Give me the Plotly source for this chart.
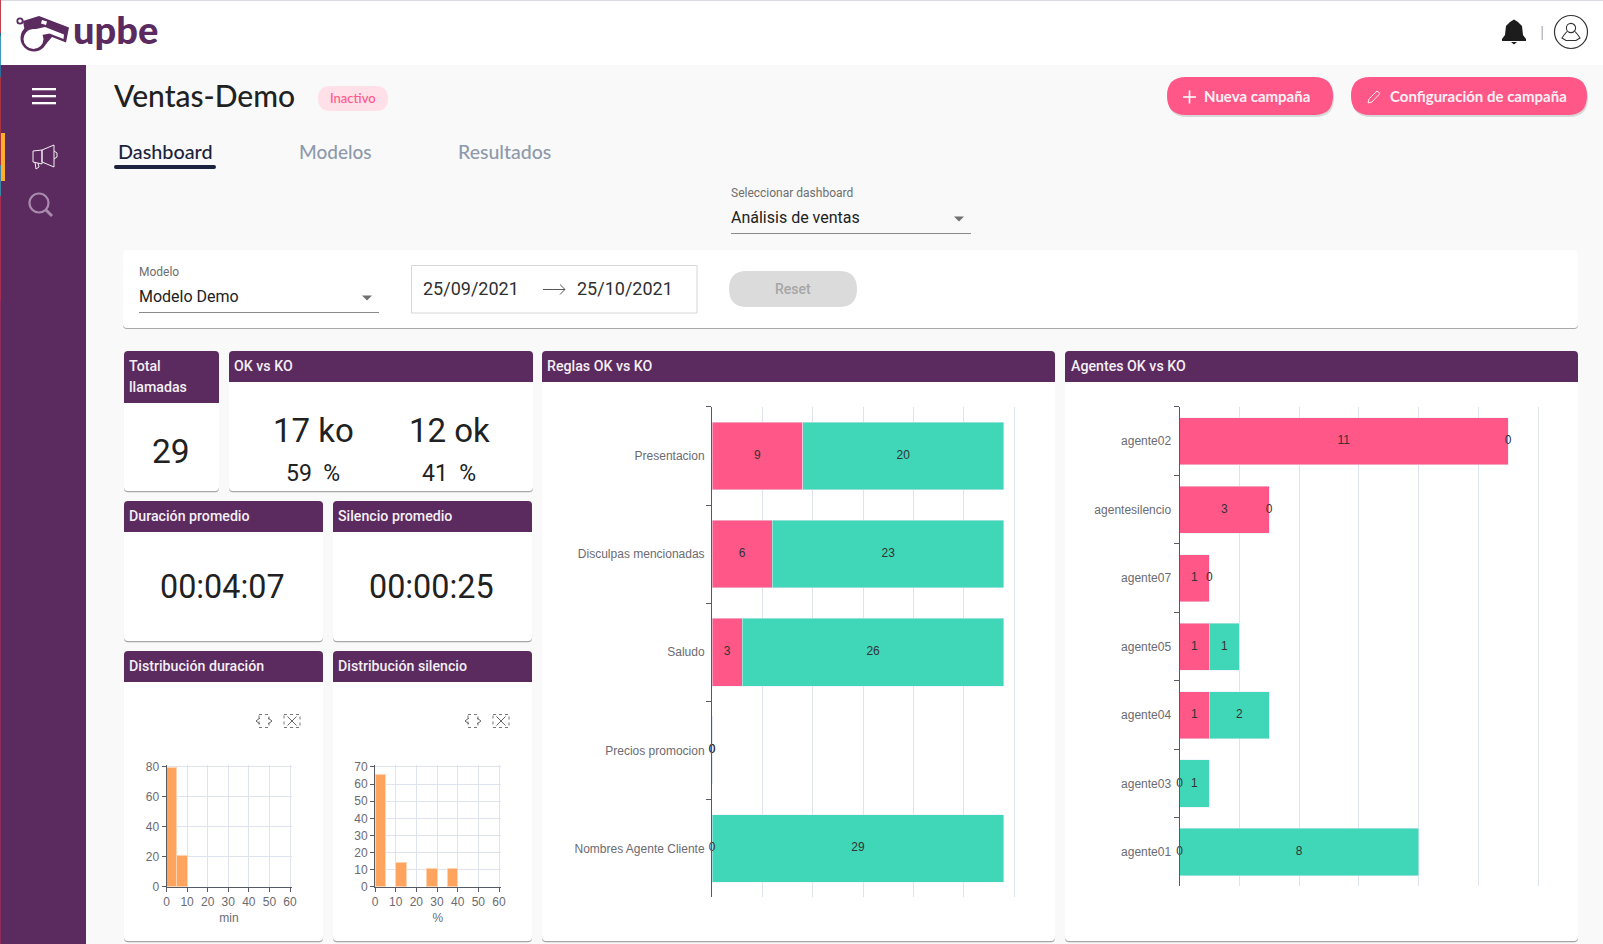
import plotly.graph_objects as go

W, H = 1603, 944

## Data -----------------------------------------------------------------------

reglas = ["Presentacion", "Disculpas mencionadas", "Saludo", "Precios promocion", "Nombres Agente Cliente"]
reglas_ko = [9, 6, 3, 0, 0]
reglas_ok = [20, 23, 26, 0, 29]

agentes = ["agente02", "agentesilencio", "agente07", "agente05", "agente04", "agente03", "agente01"]
agentes_ko = [11, 3, 1, 1, 1, 0, 0]
agentes_ok = [0, 0, 0, 1, 2, 1, 8]

duracion_x = [2.5, 7.5]
duracion_y = [79.5, 21]
silencio_x = [2.5, 12.5, 27.5, 37.5]
silencio_y = [65.5, 14, 10.5, 10.5]

PURPLE = "#5b2a5e"
PINK = "#ff5787"
TEAL = "#40d7b9"
ORANGE = "#ffa45e"
GRID = "#dfe3ee"
AXIS = "#555a64"
DARK = "#212121"
BG = "#f9f9f9"
UI = "Lato"
RB = "Roboto"
ARIAL = "Liberation Sans"

fig = go.Figure()


## Helpers --------------------------------------------------------------------

def px(x):
    return round(x / W, 5)


def py(y):
    return round(1 - y / H, 5)


def rect(x0, y0, x1, y1, fill, line=None, width=1, layer="below", dash=None):
    fig.add_shape(type="rect", xref="paper", yref="paper",
                  x0=px(x0), y0=py(y0), x1=px(x1), y1=py(y1), fillcolor=fill, layer=layer,
                  line=dict(color=line, width=width, dash=dash) if line else dict(width=0))


def path(points, fill=None, line=None, width=1, close=False, layer="above"):
    s = "M" + " L".join(f"{px(x)},{py(y)}" for x, y in points)
    if close:
        s += " Z"
    fig.add_shape(type="path", xref="paper", yref="paper", path=s, layer=layer,
                  fillcolor=fill if fill else "rgba(0,0,0,0)",
                  line=dict(color=line, width=width) if line else dict(width=0))


def rrect(x0, y0, x1, y1, r, fill, tl=True, tr=True, br=True, bl=True, line=None, layer="below"):
    def c(cx, cy):
        return f"{px(cx)},{py(cy)}"
    s = "M" + c(x0 + (r if tl else 0), y0) + " L" + c(x1 - (r if tr else 0), y0)
    if tr:
        s += " Q" + c(x1, y0) + " " + c(x1, y0 + r)
    s += " L" + c(x1, y1 - (r if br else 0))
    if br:
        s += " Q" + c(x1, y1) + " " + c(x1 - r, y1)
    s += " L" + c(x0 + (r if bl else 0), y1)
    if bl:
        s += " Q" + c(x0, y1) + " " + c(x0, y1 - r)
    s += " L" + c(x0, y0 + (r if tl else 0))
    if tl:
        s += " Q" + c(x0, y0) + " " + c(x0 + r, y0)
    s += " Z"
    fig.add_shape(type="path", xref="paper", yref="paper", path=s, fillcolor=fill, layer=layer,
                  line=dict(color=line, width=1) if line else dict(width=0))


def circle(cx, cy, r, line, width=1, fill=None, layer="above"):
    fig.add_shape(type="circle", xref="paper", yref="paper", layer=layer,
                  x0=px(cx - r), x1=px(cx + r), y0=py(cy - r), y1=py(cy + r),
                  fillcolor=fill if fill else "rgba(0,0,0,0)",
                  line=dict(color=line, width=width) if line else dict(width=0))


def txt(x, y, text, size, color=DARK, family=RB, anchor="left", weight=400):
    fig.add_annotation(xref="paper", yref="paper", x=px(x), y=py(y), text=text, showarrow=False,
                       xanchor=anchor, yanchor="middle", borderpad=0,
                       font=dict(size=size, color=color, family=family, weight=weight))


def card(x0, y0, x1, y1, hy, titles):
    rrect(x0, y0 + 1.5, x1, y1 + 1.2, 4, "#a8a8a8")
    rrect(x0, y0, x1, y1, 4, "#ffffff")
    rrect(x0, y0, x1, hy, 4, PURPLE, br=False, bl=False)
    for i, t in enumerate(titles):
        txt(x0 + 4.5, y0 + 15 + i * 21, t, 14.2, "#f4eff5", RB, weight=500)


def dropdown(x0, x1, y):
    rect(x0, y, x1, y + 1, "#8a8a8a")
    path([(x1 - 17, y - 16.5), (x1 - 7, y - 16.5), (x1 - 12, y - 11.5)], fill="#707070", close=True)


def zoom_icons(cx1, cx2, cy):
    # iconos de la barra del grafico
    rect(cx1 - 5, cy - 6.5, cx1 + 5, cy + 6.5, "rgba(0,0,0,0)", "#777777", 1, "above", "dot")
    path([(cx1 - 4, cy - 3), (cx1 - 8, cy), (cx1 - 4, cy + 3)], line="#666666", width=1)
    path([(cx1 + 4, cy - 3), (cx1 + 8, cy), (cx1 + 4, cy + 3)], line="#666666", width=1)
    rect(cx2 - 8, cy - 6.5, cx2 + 8, cy + 6.5, "rgba(0,0,0,0)", "#777777", 1, "above", "dot")
    path([(cx2 - 4.5, cy - 4.5), (cx2 + 4.5, cy + 4.5)], line="#666666", width=1)
    path([(cx2 - 4.5, cy + 4.5), (cx2 + 4.5, cy - 4.5)], line="#666666", width=1)


## Cabecera y menu lateral ----------------------------------------------------

rect(0, 0, W, 65, "#ffffff")
rect(0, 0, W, 1, "#d9d9e0")
rect(1, 65, 86, H, PURPLE)
for y0, y1, c in [(0, 33, "#c0404c"), (33, 36, "#1f6a96"), (36, 65, "#3a9ab8"), (65, 77, "#2f6f9c"),
                  (77, 133, "#a53440"), (133, 165, "#a53440"), (165, 196, "#3a86a8"),
                  (196, 300, "#a82a52"), (300, H, "#8f2a5c")]:
    rect(0, y0, 1, y1, c)
rect(1, 133, 5, 181, "#ffae2b")
for y in (88, 95, 102):
    rect(32, y, 56, y + 2.3, "#ffffff")

# megafono
path([(33, 151), (42, 150), (42, 164), (33, 162)], line="#f4eff5", close=True)
path([(42, 150), (54, 145), (54, 167), (42, 162)], line="#f4eff5", close=True)
path([(54, 151), (57, 153), (57, 157), (54, 159)], line="#f4eff5")
path([(35, 162), (36, 169), (39, 167), (38, 163)], line="#f4eff5")
# lupa
circle(39, 203, 9.5, "#a98bae", 2.2)
path([(46, 210), (52, 216)], line="#a98bae", width=3)

# logo
circle(34, 38, 13.5, None, fill=PURPLE)
path([(23, 21), (39, 16), (69, 27.5), (66, 42.5), (52, 37), (46, 44), (26, 38)], fill=PURPLE, close=True)
circle(33.5, 39, 10, None, fill="#ffffff")
path([(27, 31), (45, 27), (64, 34.5), (63.5, 39), (49.5, 33.5), (42, 35)], fill="#ffffff", close=True)
path([(42, 20), (47, 21.5), (46, 25), (41, 23.5)], fill="#ffffff", close=True)
circle(20, 21, 2.7, PURPLE, 1.8)
txt(72, 29, "upbe", 38, PURPLE, UI, weight=900)

# campana y usuario
path([(1502, 39), (1505, 35), (1506, 26), (1510, 22), (1514, 19.5), (1518, 22), (1522, 26), (1523, 35),
      (1526, 39), (1526, 41), (1502, 41)], fill="#1c1c1c", close=True)
path([(1511, 42), (1517, 42), (1514, 44.5)], fill="#1c1c1c", close=True)
rect(1541.5, 26, 1543, 40, "#bcbcc4")
circle(1571, 32, 16.5, "#333333", 1.2)
circle(1571, 28, 4.6, "#333333", 1.1)
path([(1567, 31.5), (1564, 35), (1562, 38), (1566, 40.5), (1576, 40.5), (1580, 38), (1578, 35), (1575, 31.5)],
     line="#333333", width=1.1)

## Barra de titulo ------------------------------------------------------------

txt(113, 94.5, "Ventas-Demo", 30, DARK, UI, weight=500)
rrect(318, 86, 388, 111, 12.5, "#ffe0e9")
txt(353, 98.5, "Inactivo", 13, "#ff5787", UI, "center", 500)

txt(116.5, 151, "Dashboard", 19.8, "#1c2340", UI, weight=500)
rrect(114, 165, 216, 169, 2, "#1c2340")
txt(298, 151.5, "Modelos", 19, "#8e99ab", UI, weight=500)
txt(457.5, 151.5, "Resultados", 19.5, "#8e99ab", UI, weight=500)

rrect(1168, 79, 1334, 117, 19, "#d8d8d8")
rrect(1167, 77, 1333, 115, 19, PINK)
path([(1183, 97), (1196, 97)], line="#ffffff", width=1.6)
path([(1189.5, 90.5), (1189.5, 103.5)], line="#ffffff", width=1.6)
txt(1203, 96.5, "Nueva campaña", 15, "#fdf1f5", UI, weight=700)
rrect(1352, 79, 1588, 117, 19, "#d8d8d8")
rrect(1351, 77, 1587, 115, 19, PINK)
path([(1368, 103), (1369, 99), (1377, 91), (1380, 93.5), (1372, 102)], line="#fdeef3", close=True)
txt(1388.5, 96.5, "Configuración de campaña", 15, "#fdf1f5", UI, weight=700)

txt(730, 193, "Seleccionar dashboard", 12, "#6e6e6e")
txt(730, 218, "Análisis de ventas", 16, DARK)
dropdown(731, 971, 233)

## Filtros --------------------------------------------------------------------

rrect(123, 251, 1578, 329, 4, "#a8a8a8")
rrect(123, 250, 1578, 328, 4, "#ffffff")
txt(138, 272, "Modelo", 12, "#6e6e6e")
txt(138, 296, "Modelo Demo", 16, DARK)
dropdown(139, 379, 312)
rect(411.5, 265.5, 697, 313, "#ffffff", "#d6d6d6")
txt(422, 289, "25/09/2021", 18, "#303030")
path([(543, 289.5), (565, 289.5)], line="#555555")
path([(560, 284.5), (565, 289.5), (560, 294.5)], line="#555555")
txt(576, 289, "25/10/2021", 18, "#303030")
rrect(729, 271, 857, 307, 18, "#dbdbdb")
txt(793, 289.5, "Reset", 14, "#a6a6a6", RB, "center", 500)

## Tarjetas -------------------------------------------------------------------

card(124, 351, 219, 491, 403, ["Total", "llamadas"])
txt(171, 451.5, "29", 33.5, DARK, RB, "center")
card(229, 351, 533, 491, 382, ["OK vs KO"])
txt(313, 430, "17 ko", 33, DARK, RB, "center")
txt(449, 430, "12 ok", 33, DARK, RB, "center")
txt(313, 473, "59  %", 23, DARK, RB, "center")
txt(449, 473, "41  %", 23, DARK, RB, "center")
card(124, 501, 323, 641, 532, ["Duración promedio"])
txt(223, 587.5, "00:04:07", 32.3, DARK, RB, "center")
card(333, 501, 532, 641, 532, ["Silencio promedio"])
txt(432, 587.5, "00:00:25", 32.3, DARK, RB, "center")
card(124, 651, 323, 941, 682, ["Distribución duración"])
card(333, 651, 532, 941, 682, ["Distribución silencio"])
card(542, 351, 1055, 941, 382, ["Reglas OK vs KO"])
card(1065, 351, 1578, 941, 382, ["Agentes OK vs KO"])
zoom_icons(264, 292, 721)
zoom_icons(473, 501, 721)

## Graficos -------------------------------------------------------------------

PAD = 1.5  # plotly no dibuja la rejilla justo en el borde del eje


def add_stack(cats, ko, ok, n, xmax, x0, x1, y0, y1, standoff):
    xa, ya = f"x{n}", f"y{n}"
    fig.add_trace(go.Bar(y=cats, x=ko, orientation="h", marker_color=PINK, xaxis=xa, yaxis=ya, hoverinfo="skip"))
    fig.add_trace(go.Bar(y=cats, x=ok, orientation="h", marker_color=TEAL, xaxis=xa, yaxis=ya, hoverinfo="skip"))
    lx = [k / 2 for k in ko] + [k + o / 2 for k, o in zip(ko, ok)]
    labels = ko + ok
    fig.add_trace(go.Scatter(x=lx, y=cats + cats, text=[str(v) for v in labels], mode="text",
                             textposition="middle center", xaxis=xa, yaxis=ya, hoverinfo="skip",
                             cliponaxis=False, textfont=dict(size=12, color="#333333", family=ARIAL)))
    fig.update_layout({
        f"xaxis{n}": dict(domain=[px(x0), px(x1 + PAD)], anchor=ya, range=[0, xmax * (x1 + PAD - x0) / (x1 - x0)],
                          dtick=xmax / 6, tick0=0, showticklabels=False, ticks="", showline=False,
                          zeroline=False, gridcolor=GRID, gridwidth=1),
        f"yaxis{n}": dict(domain=[py(y1), py(y0)], anchor=xa, type="category", categoryorder="array",
                          categoryarray=cats, range=[len(cats) - 0.505, -0.5], showline=True,
                          linecolor=AXIS, linewidth=1, ticks="outside", ticklen=5, tickcolor=AXIS,
                          tickson="boundaries", showgrid=False, zeroline=False, ticklabelstandoff=standoff,
                          tickfont=dict(size=12, color="#6b6b72", family=ARIAL)),
    })


def add_hist(xs, ys, n, ymax, dy, title, x0, x1, y0, y1):
    xa, ya = f"x{n}", f"y{n}"
    fig.add_trace(go.Bar(x=xs, y=ys, width=5, marker=dict(color=ORANGE, line=dict(color="#ffd3b0", width=1)),
                         xaxis=xa, yaxis=ya, hoverinfo="skip"))
    font = dict(size=12, color="#6b6b72", family=ARIAL)
    fig.update_layout({
        f"xaxis{n}": dict(domain=[px(x0), px(x1 + PAD)], anchor=ya, range=[0, 60 * (x1 + PAD - x0) / (x1 - x0)],
                          dtick=10, tick0=0, gridcolor=GRID, showline=True, linecolor=AXIS, ticks="outside",
                          ticklen=4, tickcolor=AXIS, zeroline=False, tickfont=font,
                          title=dict(text=title, font=font, standoff=5)),
        f"yaxis{n}": dict(domain=[py(y1), py(y0 - PAD)], anchor=xa, range=[0, ymax * (y1 - y0 + PAD) / (y1 - y0)],
                          dtick=dy, tick0=0, gridcolor=GRID, showline=True, linecolor=AXIS, ticks="outside",
                          ticklen=4, tickcolor=AXIS, zeroline=False, tickfont=font),
    })


add_hist(duracion_x, duracion_y, "", 80, 20, "min", 166.5, 290, 767, 887)
add_hist(silencio_x, silencio_y, 2, 70, 10, "%", 375, 499, 767, 887)
add_stack(reglas, reglas_ko, reglas_ok, 3, 30, 712, 1014, 407, 897, 4)
add_stack(agentes, agentes_ko, agentes_ok, 4, 12, 1179.5, 1538, 407, 886, 5)

fig.update_layout(width=W, height=H, margin=dict(l=0, r=0, t=0, b=0, autoexpand=False), paper_bgcolor=BG,
                  plot_bgcolor="rgba(0,0,0,0)", barmode="stack", bargap=0.31, showlegend=False,
                  font=dict(family=RB))

fig.write_html("out.html", config=dict(displayModeBar=False),
               post_script="document.body.style.margin='0';document.body.style.overflow='hidden';")
